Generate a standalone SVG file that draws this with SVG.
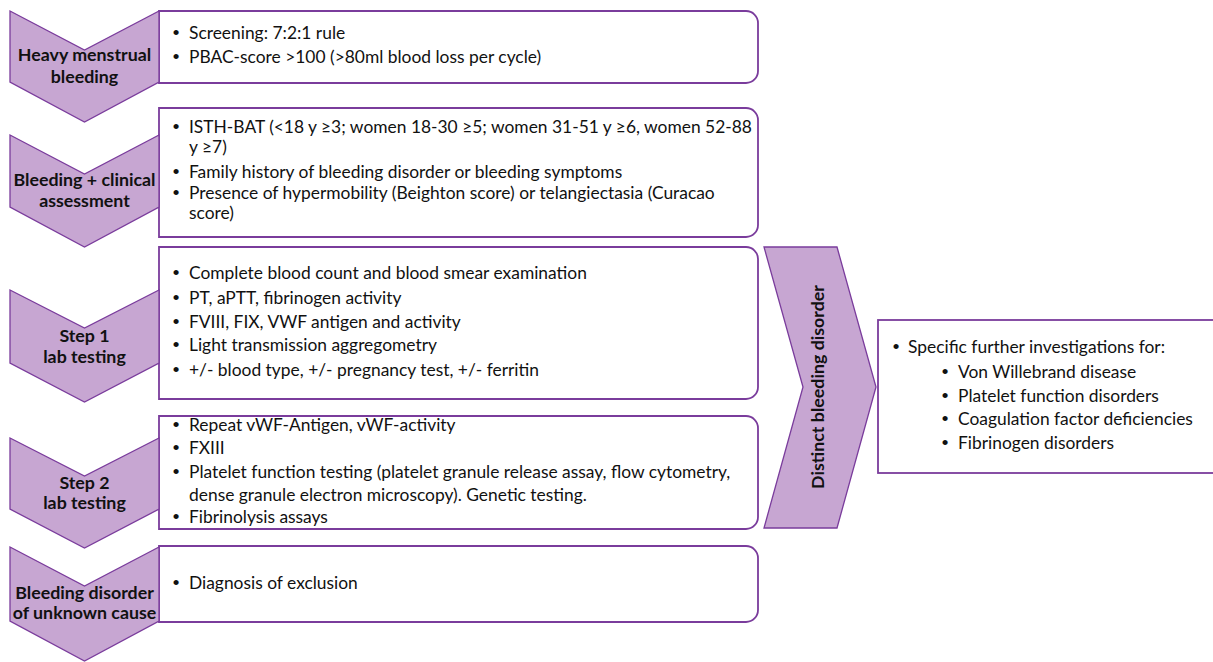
<svg xmlns="http://www.w3.org/2000/svg" width="1213" height="662" viewBox="0 0 1213 662">
<style>
.chev{fill:#c7a6d2;stroke:#7a3c9c;stroke-width:1.3}
.box{fill:#ffffff;stroke:#7a3c9c;stroke-width:1.8}
.lbl{font-family:Lato,"Liberation Sans",sans-serif;font-weight:bold;font-size:17.8px;fill:#111;text-anchor:middle}
.t{font-family:Lato,"Liberation Sans",sans-serif;font-size:17.4px;fill:#111}
.b{font-family:"Liberation Sans",sans-serif;font-size:19px;fill:#111;text-anchor:middle}
</style>
<rect width="1213" height="662" fill="#ffffff"/>
<g id="connectors"></g>
<g id="box1">
<path class="box" d="M159,11 H746 A12,12 0 0 1 758,23 V71 A12,12 0 0 1 746,83 H159 Z"/>
<text class="b" x="176" y="39">•</text><text class="t" x="189" y="39">Screening: 7:2:1 rule</text>
<text class="b" x="176" y="63">•</text><text class="t" x="189" y="63">PBAC-score &gt;100 (&gt;80ml blood loss per cycle)</text>
</g>
<g id="box2">
<path class="box" d="M159,108 H746 A12,12 0 0 1 758,120 V225 A12,12 0 0 1 746,237 H159 Z"/>
<text class="b" x="176" y="133">•</text><text class="t" x="189" y="133">ISTH-BAT (&lt;18 y ≥3; women 18-30 ≥5; women 31-51 y ≥6, women 52-88</text>
<text class="t" x="189" y="153">y ≥7)</text>
<text class="b" x="176" y="178">•</text><text class="t" x="189" y="178">Family history of bleeding disorder or bleeding symptoms</text>
<text class="b" x="176" y="199">•</text><text class="t" x="189" y="199">Presence of hypermobility (Beighton score) or telangiectasia (Curacao</text>
<text class="t" x="189" y="219">score)</text>
</g>
<g id="box3">
<path class="box" d="M159,247 H746 A12,12 0 0 1 758,259 V387 A12,12 0 0 1 746,399 H159 Z"/>
<text class="b" x="176" y="279">•</text><text class="t" x="189" y="279">Complete blood count and blood smear examination</text>
<text class="b" x="176" y="304">•</text><text class="t" x="189" y="304">PT, aPTT, fibrinogen activity</text>
<text class="b" x="176" y="328">•</text><text class="t" x="189" y="328">FVIII, FIX, VWF antigen and activity</text>
<text class="b" x="176" y="351">•</text><text class="t" x="189" y="351">Light transmission aggregometry</text>
<text class="b" x="176" y="376">•</text><text class="t" x="189" y="376">+/- blood type, +/- pregnancy test, +/- ferritin</text>
</g>
<g id="box4">
<path class="box" d="M159,416 H746 A12,12 0 0 1 758,428 V517 A12,12 0 0 1 746,529 H159 Z"/>
<text class="b" x="176" y="431">•</text><text class="t" x="189" y="431">Repeat vWF-Antigen, vWF-activity</text>
<text class="b" x="176" y="454">•</text><text class="t" x="189" y="454">FXIII</text>
<text class="b" x="176" y="478">•</text><text class="t" x="189" y="478">Platelet function testing (platelet granule release assay, flow cytometry,</text>
<text class="t" x="189" y="501">dense granule electron microscopy). Genetic testing.</text>
<text class="b" x="176" y="523">•</text><text class="t" x="189" y="523">Fibrinolysis assays</text>
</g>
<g id="box5">
<path class="box" d="M159,546 H746 A12,12 0 0 1 758,558 V610 A12,12 0 0 1 746,622 H159 Z"/>
<text class="b" x="176" y="589">•</text><text class="t" x="189" y="589">Diagnosis of exclusion</text>
</g>
<g id="chev1">
<path class="chev" d="M10,11 L84.5,50 L159,11 L159,82 L84.5,122 L10,82 Z"/>
<text class="lbl" x="84.5" y="61">Heavy menstrual</text>
<text class="lbl" x="84.5" y="83">bleeding</text>
</g>
<g id="chev2">
<path class="chev" d="M10,135 L84.5,174 L159,135 L159,207 L84.5,247 L10,207 Z"/>
<text class="lbl" x="84.5" y="186">Bleeding + clinical</text>
<text class="lbl" x="84.5" y="207">assessment</text>
</g>
<g id="chev3">
<path class="chev" d="M10,290 L84.5,328 L159,290 L159,363 L84.5,402 L10,363 Z"/>
<text class="lbl" x="84.5" y="342">Step 1</text>
<text class="lbl" x="84.5" y="363">lab testing</text>
</g>
<g id="chev4">
<path class="chev" d="M10,438 L84.5,476 L159,438 L159,509 L84.5,548 L10,509 Z"/>
<text class="lbl" x="84.5" y="489">Step 2</text>
<text class="lbl" x="84.5" y="509">lab testing</text>
</g>
<g id="chev5">
<path class="chev" d="M10,547 L84.5,586 L159,547 L159,621 L84.5,661 L10,621 Z"/>
<text class="lbl" x="84.5" y="599">Bleeding disorder</text>
<text class="lbl" x="84.5" y="619">of unknown cause</text>
</g>
<g id="distinct">
<path class="chev" d="M764,247 L837,247 L876,387 L837,528 L764,528 L803,387 Z"/>
<text class="lbl" transform="translate(818,387) rotate(-90)" x="0" y="6">Distinct bleeding disorder</text>
</g>
<g id="further">
<rect class="box" x="878" y="320" width="340" height="153"/>
<text class="b" x="896" y="353">•</text><text class="t" x="908" y="353">Specific further investigations for:</text>
<text class="b" x="945" y="378">•</text><text class="t" x="958" y="378">Von Willebrand disease</text>
<text class="b" x="945" y="402">•</text><text class="t" x="958" y="402">Platelet function disorders</text>
<text class="b" x="945" y="425">•</text><text class="t" x="958" y="425">Coagulation factor deficiencies</text>
<text class="b" x="945" y="449">•</text><text class="t" x="958" y="449">Fibrinogen disorders</text>
</g>
</svg>
